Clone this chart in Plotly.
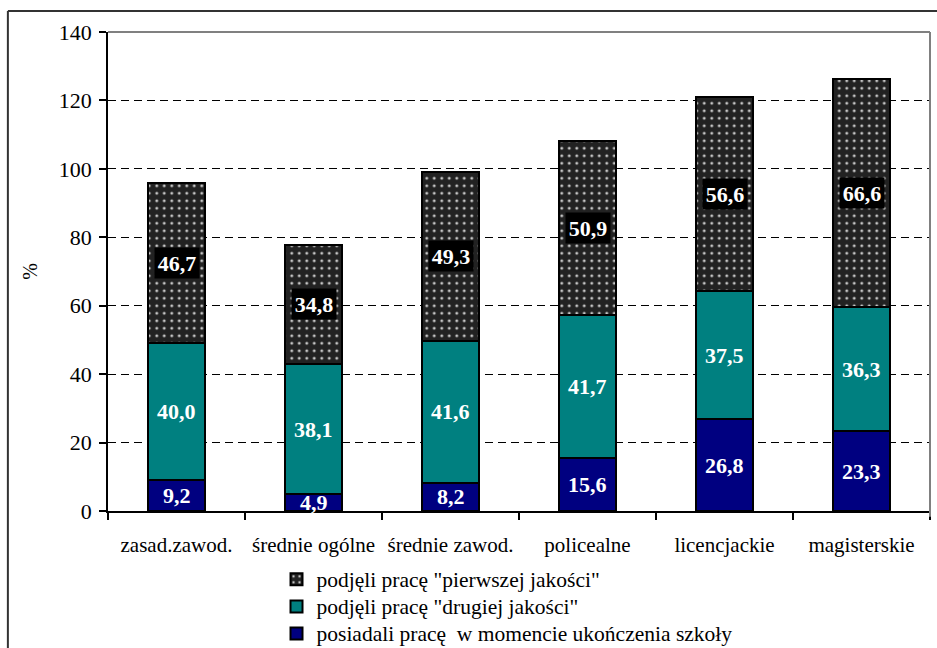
import plotly.graph_objects as go

categories = ["zasad.zawod.", "średnie ogólne", "średnie zawod.", "policealne", "licencjackie", "magisterskie"]
posiadali = [9.2, 4.9, 8.2, 15.6, 26.8, 23.3]
druga = [40.0, 38.1, 41.6, 41.7, 37.5, 36.3]
pierwsza = [46.7, 34.8, 49.3, 50.9, 56.6, 66.6]
names = ["posiadali pracę  w momencie ukończenia szkoły",
         'podjęli pracę "drugiej jakości"',
         'podjęli pracę "pierwszej jakości"']
y_ticks = [0, 20, 40, 60, 80, 100, 120, 140]

FONT = "Liberation Serif"

def big(t):
    return f'<span style="font-size:21.5px">{t}</span>'

fig = go.Figure()
fig.add_trace(go.Bar(x=categories, y=posiadali, name=big(names[0]),
                     marker=dict(color="#000080", line=dict(color="black", width=2))))
fig.add_trace(go.Bar(x=categories, y=druga, name=big(names[1]),
                     marker=dict(color="#008080", line=dict(color="black", width=2))))
fig.add_trace(go.Bar(x=categories, y=pierwsza, name=big(names[2]),
                     marker=dict(color="#222222", line=dict(color="black", width=2),
                                 pattern=dict(shape=".", fgcolor="#c8c8c8", bgcolor="#222222",
                                              size=7.5, solidity=0.12, fillmode="replace"))))

def fmt(v):
    return f"{v:.1f}".replace(".", ",")

ann = []
for i, c in enumerate(categories):
    b1 = posiadali[i]
    b2 = b1 + druga[i]
    ann.append(dict(x=c, y=b1 / 2, text=f"<b>{fmt(posiadali[i])}</b>", showarrow=False,
                    font=dict(family=FONT, size=22, color="white")))
    ann.append(dict(x=c, y=(b1 + b2) / 2, text=f"<b>{fmt(druga[i])}</b>", showarrow=False,
                    font=dict(family=FONT, size=22, color="white")))
    ann.append(dict(x=c, y=b2 + pierwsza[i] / 2, text=f"<b>{fmt(pierwsza[i])}</b>", showarrow=False,
                    bgcolor="black", borderpad=0, width=44, height=30,
                    font=dict(family=FONT, size=22, color="white")))

shapes = [
    dict(type="line", xref="paper", yref="paper", x0=0, x1=1, y0=1, y1=1,
         line=dict(color="#808080", width=2)),
    dict(type="line", xref="paper", yref="paper", x0=1, x1=1, y0=-0.012, y1=1,
         line=dict(color="#808080", width=2)),
    # outer frame (left and top edges)
    dict(type="line", xref="paper", yref="paper", x0=-0.1218, x1=1.02, y0=1.0438, y1=1.0438,
         line=dict(color="#333333", width=2)),
    dict(type="line", xref="paper", yref="paper", x0=-0.1218, x1=-0.1218, y0=-0.3, y1=1.0438,
         line=dict(color="#333333", width=2)),
]

fig.update_layout(
    width=937, height=648,
    margin=dict(l=108, r=7, t=32, b=137, autoexpand=False),
    barmode="stack", bargap=0.583,
    plot_bgcolor="white", paper_bgcolor="white",
    font=dict(family=FONT, size=20, color="black"),
    annotations=ann, shapes=shapes,
    legend=dict(x=0.205, y=-0.104, xanchor="left", yanchor="top",
                traceorder="reversed", font=dict(family=FONT, size=18.5, color="black"),
                itemclick=False, tracegroupgap=0, bgcolor="rgba(0,0,0,0)"),
    showlegend=True,
)
fig.update_xaxes(showline=True, linecolor="black", linewidth=1.5, ticks="outside",
                 tickson="boundaries", ticklen=7, tickcolor="black", tickwidth=1.5,
                 ticklabelstandoff=14, tickfont=dict(family=FONT, size=21, color="black"),
                 range=[-0.5, 5.5])
fig.update_yaxes(range=[0, 140], tickvals=y_ticks, showline=True, linecolor="black", linewidth=1.5,
                 ticks="outside", ticklen=7, tickcolor="black", tickwidth=1.5,
                 showgrid=True, gridcolor="black", gridwidth=1, griddash="8px,5px",
                 tickfont=dict(family=FONT, size=22, color="black"), zeroline=False,
                 ticklabelstandoff=3,
                 title=dict(text="%", font=dict(family=FONT, size=20, color="black"), standoff=16))

fig.write_html("out.html")
